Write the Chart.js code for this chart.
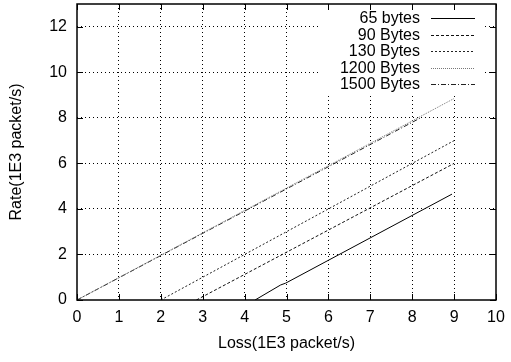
<!DOCTYPE html>
<html>
<head>
<meta charset="utf-8">
<script src="https://cdn.jsdelivr.net/npm/chart.js@4.4.1/dist/chart.umd.min.js"></script>
<style>
  html, body { margin:0; padding:0; background:#fff; }
  canvas { display:block; }
</style>
</head>
<body>
<canvas id="c" width="511" height="362"></canvas>
<script>
// ---------- data ----------
const seriesNames = ["65 bytes", "90 Bytes", "130 Bytes", "1200 Bytes", "1500 Bytes"];
const loss65   = [4.25, 4.86, 4.98, 8.95];
const rate65   = [0,    0.66, 0.74, 4.65];
const loss90   = [2.85, 9];
const rate90   = [0,    6];
const loss130  = [2.0, 9];
const rate130  = [0,   7];
const loss1200 = [0, 9];
const rate1200 = [0, 8.85];
const loss1500 = [0, 8.2];
const rate1500 = [0, 8.0];
const xTicks = [0,1,2,3,4,5,6,7,8,9,10];
const yTicks = [0,2,4,6,8,10,12];

const styles = [
  { color:"#000", dash:[] },
  { color:"#111", dash:[3,2] },
  { color:"#222", dash:[2,2] },
  { color:"#777", dash:[1,1] },
  { color:"#222", dash:[5,2,1,2] }
];

function pts(xs, ys){ return xs.map((x,i) => ({ x, y: ys[i] })); }
const allSeries = [
  pts(loss65, rate65), pts(loss90, rate90), pts(loss130, rate130),
  pts(loss1200, rate1200), pts(loss1500, rate1500)
];

const FONT = "Liberation Sans, Arial, sans-serif";
const FS = 16;

// legend, border and inward ticks gnuplot-style
const gnuplotFrame = {
  id: "gnuplotFrame",
  afterDraw(chart){
    const { ctx, chartArea: a, scales } = chart;
    ctx.save();

    // opaque key box
    ctx.fillStyle = "#fff";
    ctx.fillRect(319, 6, 166, 87);
    ctx.font = FS + "px " + FONT;
    ctx.textAlign = "right";
    ctx.textBaseline = "middle";
    chart.data.datasets.forEach((ds, i) => {
      const y = 18 + i * 16.5;
      ctx.fillStyle = "#000";
      ctx.fillText(ds.label, 420, y + 1);
      ctx.strokeStyle = ds.borderColor;
      ctx.lineWidth = 1;
      ctx.setLineDash(ds.borderDash);
      ctx.beginPath();
      ctx.moveTo(431, Math.round(y) + 0.5);
      ctx.lineTo(475, Math.round(y) + 0.5);
      ctx.stroke();
    });
    ctx.setLineDash([]);

    // ticks inside on all four sides
    ctx.strokeStyle = "#000";
    ctx.lineWidth = 1;
    ctx.beginPath();
    xTicks.forEach(v => {
      const px = Math.round(scales.x.getPixelForValue(v)) + 0.5;
      ctx.moveTo(px, a.bottom); ctx.lineTo(px, a.bottom - 6);
      ctx.moveTo(px, a.top);    ctx.lineTo(px, a.top + 6);
    });
    yTicks.forEach(v => {
      const py = Math.round(scales.y.getPixelForValue(v)) + 0.5;
      ctx.moveTo(a.left, py);  ctx.lineTo(a.left + 6, py);
      ctx.moveTo(a.right, py); ctx.lineTo(a.right - 6, py);
    });
    ctx.stroke();

    // border
    ctx.lineWidth = 1.5;
    ctx.strokeRect(a.left, a.top, a.right - a.left, a.bottom - a.top);
    ctx.restore();
  }
};

const gridColor = (edgeMax) => (c) => {
  const v = c.tick && c.tick.value;
  return (v === 0 || v === edgeMax) ? "rgba(0,0,0,0)" : "#000";
};

new Chart(document.getElementById("c"), {
  type: "scatter",
  data: {
    datasets: allSeries.map((d, i) => ({
      label: seriesNames[i],
      data: d,
      showLine: true,
      borderColor: styles[i].color,
      borderDash: styles[i].dash,
      borderWidth: 1,
      pointRadius: 0,
      tension: 0
    }))
  },
  options: {
    responsive: false,
    animation: false,
    devicePixelRatio: 1,
    layout: { padding: { top: 4, right: 15, left: 0, bottom: 0 } },
    plugins: { legend: { display: false }, tooltip: { enabled: false } },
    scales: {
      x: {
        type: "linear", min: 0, max: 10,
        afterBuildTicks: s => { s.ticks = xTicks.map(v => ({ value: v })); },
        afterFit: s => { s.height = 62; s.paddingLeft = 0; s.paddingRight = 0; },
        ticks: { color: "#000", font: { family: FONT, size: FS }, padding: 8 },
        grid: { color: gridColor(10), drawTicks: false, lineWidth: 1 },
        border: { display: false, dash: [1,3] },
        title: { display: true, text: "Loss(1E3 packet/s)", color: "#000",
                 font: { family: FONT, size: FS }, padding: { top: 0, bottom: 9 } }
      },
      y: {
        type: "linear", min: 0, max: 13,
        afterBuildTicks: s => { s.ticks = yTicks.map(v => ({ value: v })); },
        afterFit: s => { s.width = 77; s.paddingTop = 0; s.paddingBottom = 0; },
        ticks: { color: "#000", font: { family: FONT, size: FS }, padding: 10 },
        grid: { color: gridColor(13), drawTicks: false, lineWidth: 1 },
        border: { display: false, dash: [1,3] },
        title: { display: true, text: "Rate(1E3 packet/s)", color: "#000",
                 font: { family: FONT, size: FS }, padding: { top: 7, bottom: 0 } }
      }
    }
  },
  plugins: [gnuplotFrame]
});
</script>
</body>
</html>
